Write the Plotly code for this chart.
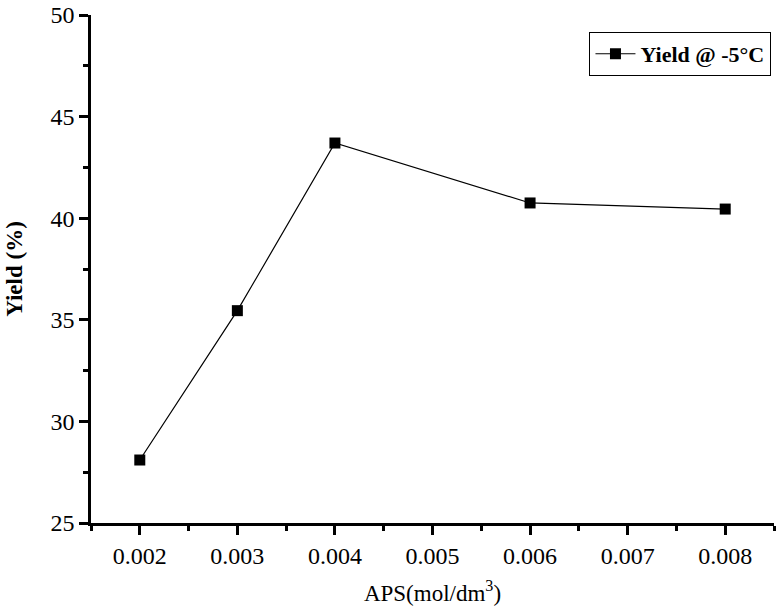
import plotly.graph_objects as go

aps = [0.002, 0.003, 0.004, 0.006, 0.008]
yield_pct = [28.1, 35.45, 43.7, 40.75, 40.45]
series_name = "Yield @ -5°C"
x_ticks = [0.002, 0.003, 0.004, 0.005, 0.006, 0.007, 0.008]
x_ticklabels = ["0.002", "0.003", "0.004", "0.005", "0.006", "0.007", "0.008"]
y_ticks = [25, 30, 35, 40, 45, 50]

font_family = "Liberation Serif, Times New Roman, serif"

fig = go.Figure()
fig.add_trace(go.Scatter(
    x=aps, y=yield_pct, mode="lines+markers", name="<b>" + series_name + "</b>",
    line=dict(color="black", width=1.2),
    marker=dict(symbol="square", size=11, color="black"),
    showlegend=True,
))

fig.update_layout(
    width=780, height=615,
    margin=dict(l=91, r=6, t=15, b=92, autoexpand=False),
    plot_bgcolor="white", paper_bgcolor="white",
    font=dict(family=font_family, size=24, color="black"),
    showlegend=True,
    legend=dict(
        x=0.996, y=0.967, xanchor="right", yanchor="top",
        bordercolor="black", borderwidth=1.2, bgcolor="white",
        font=dict(family=font_family, size=22, color="black"),
        tracegroupgap=0, itemwidth=40,
    ),
    xaxis=dict(
        range=[0.0015, 0.0085], tickmode="array", tickvals=x_ticks, ticktext=x_ticklabels,
        showgrid=False, zeroline=False, showline=True, linecolor="black", linewidth=2.5,
        ticks="outside", ticklen=9, tickwidth=2.5, tickcolor="black",
        minor=dict(dtick=0.0005, tick0=0.0015, ticks="outside", ticklen=5, tickwidth=2.5, tickcolor="black"),
        tickfont=dict(size=24),
        title=dict(text="APS(mol/dm<sup>3</sup>)", font=dict(size=23), standoff=18),
        automargin=False,
    ),
    yaxis=dict(
        range=[25, 50], tickmode="array", tickvals=y_ticks,
        showgrid=False, zeroline=False, showline=True, linecolor="black", linewidth=2.5,
        ticks="outside", ticklen=9, tickwidth=2.5, tickcolor="black",
        minor=dict(dtick=2.5, tick0=25, ticks="outside", ticklen=5, tickwidth=2.5, tickcolor="black"),
        tickfont=dict(size=24),
        title=dict(text="<b>Yield (%)</b>", font=dict(size=23), standoff=22),
        automargin=False,
    ),
)

fig.write_html("out.html", config={"displayModeBar": False},
               post_script="document.body.style.margin='0px';")
